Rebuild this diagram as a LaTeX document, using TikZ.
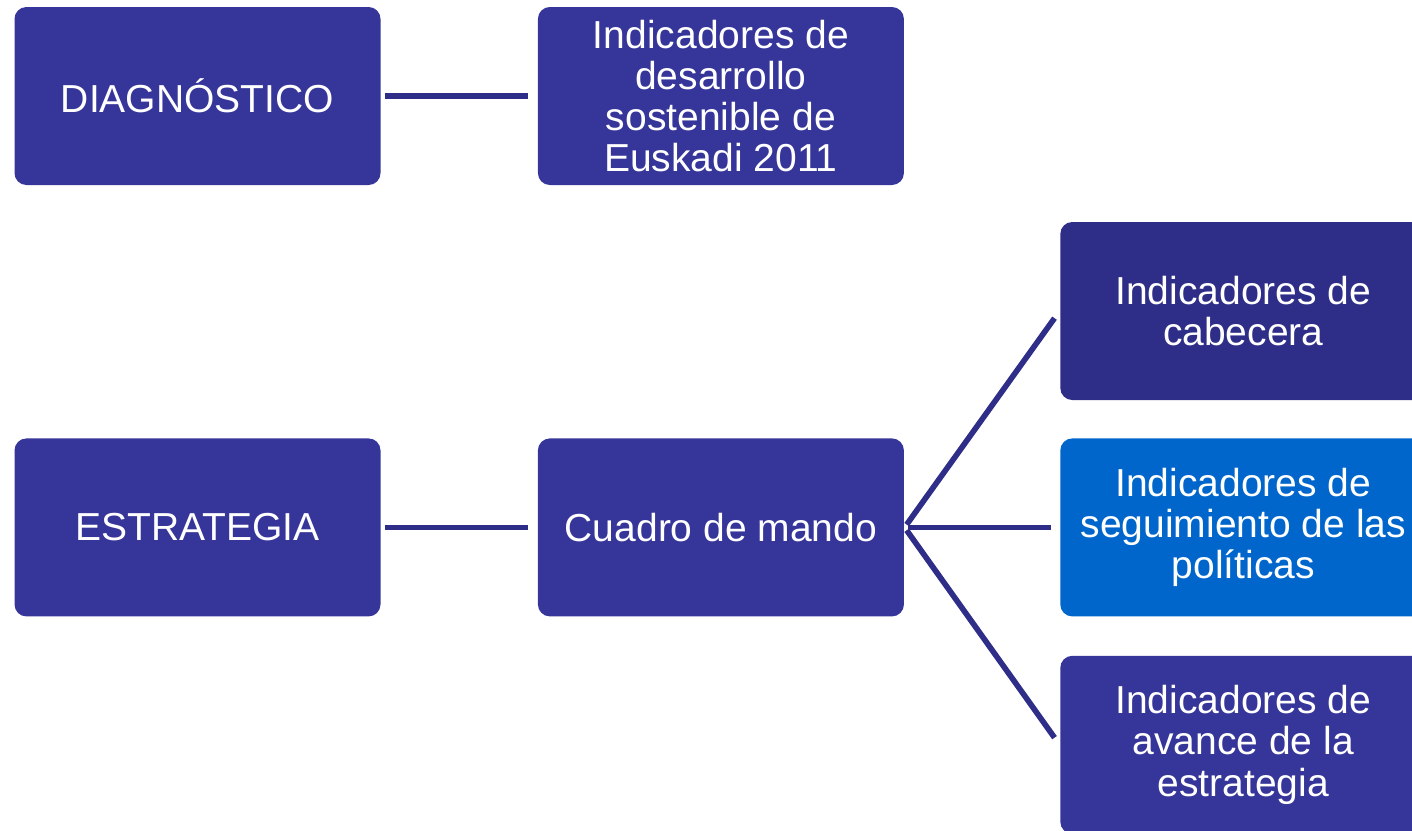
\documentclass[tikz,border=0pt]{standalone}
\usepackage{fontspec}
\setmainfont{Liberation Sans}
\usetikzlibrary{positioning}
\definecolor{boxblue}{HTML}{35359A}
\definecolor{headblue}{HTML}{2E2E88}
\definecolor{lightblue}{HTML}{0066CC}
\definecolor{linkblue}{HTML}{2E2E88}
\tikzset{
  node distance=1.56cm,
  every node/.style={align=center}
}

\begin{document}
\begin{tikzpicture}
\tikzstyle{box}=[rectangle, rounded corners=3.4pt, fill=boxblue, text=white,
  minimum width=3.66cm, minimum height=1.78cm, inner sep=0pt,
  font=\fontsize{11.1}{11.7}\selectfont]
\tikzstyle{head}=[box, fill=headblue]
\tikzstyle{pol}=[box, fill=lightblue]
\tikzstyle{link}=[draw=linkblue, line width=1.6pt, shorten <=1pt, shorten >=2.5pt]

\clip (0,0) rectangle (14.12,8.3);

% diagnostico
\node[box](diag) at (1.975,7.34){DIAGNÓSTICO};
\node[box, right=of diag](ids){Indicadores de\\desarrollo\\sostenible de\\Euskadi 2011};
\draw[link](diag) -- (ids);

% estrategia
\node[box, below=2.52cm of diag](estr){ESTRATEGIA};
\node[box, right=of estr](cdm){Cuadro de mando};
\draw[link](estr) -- (cdm);

% indicadores
\node[pol, right=1.55cm of cdm](seg){Indicadores de\\seguimiento de las\\políticas};
\node[head, above=0.37cm of seg](cab){Indicadores de\\cabecera};
\node[box, below=0.38cm of seg](av){Indicadores de\\avance de la\\estrategia};

\draw[link](cdm.east) -- (cab.west);
\draw[link](cdm.east) -- (seg.west);
\draw[link](cdm.east) -- (av.west);

\end{tikzpicture}
\end{document}
